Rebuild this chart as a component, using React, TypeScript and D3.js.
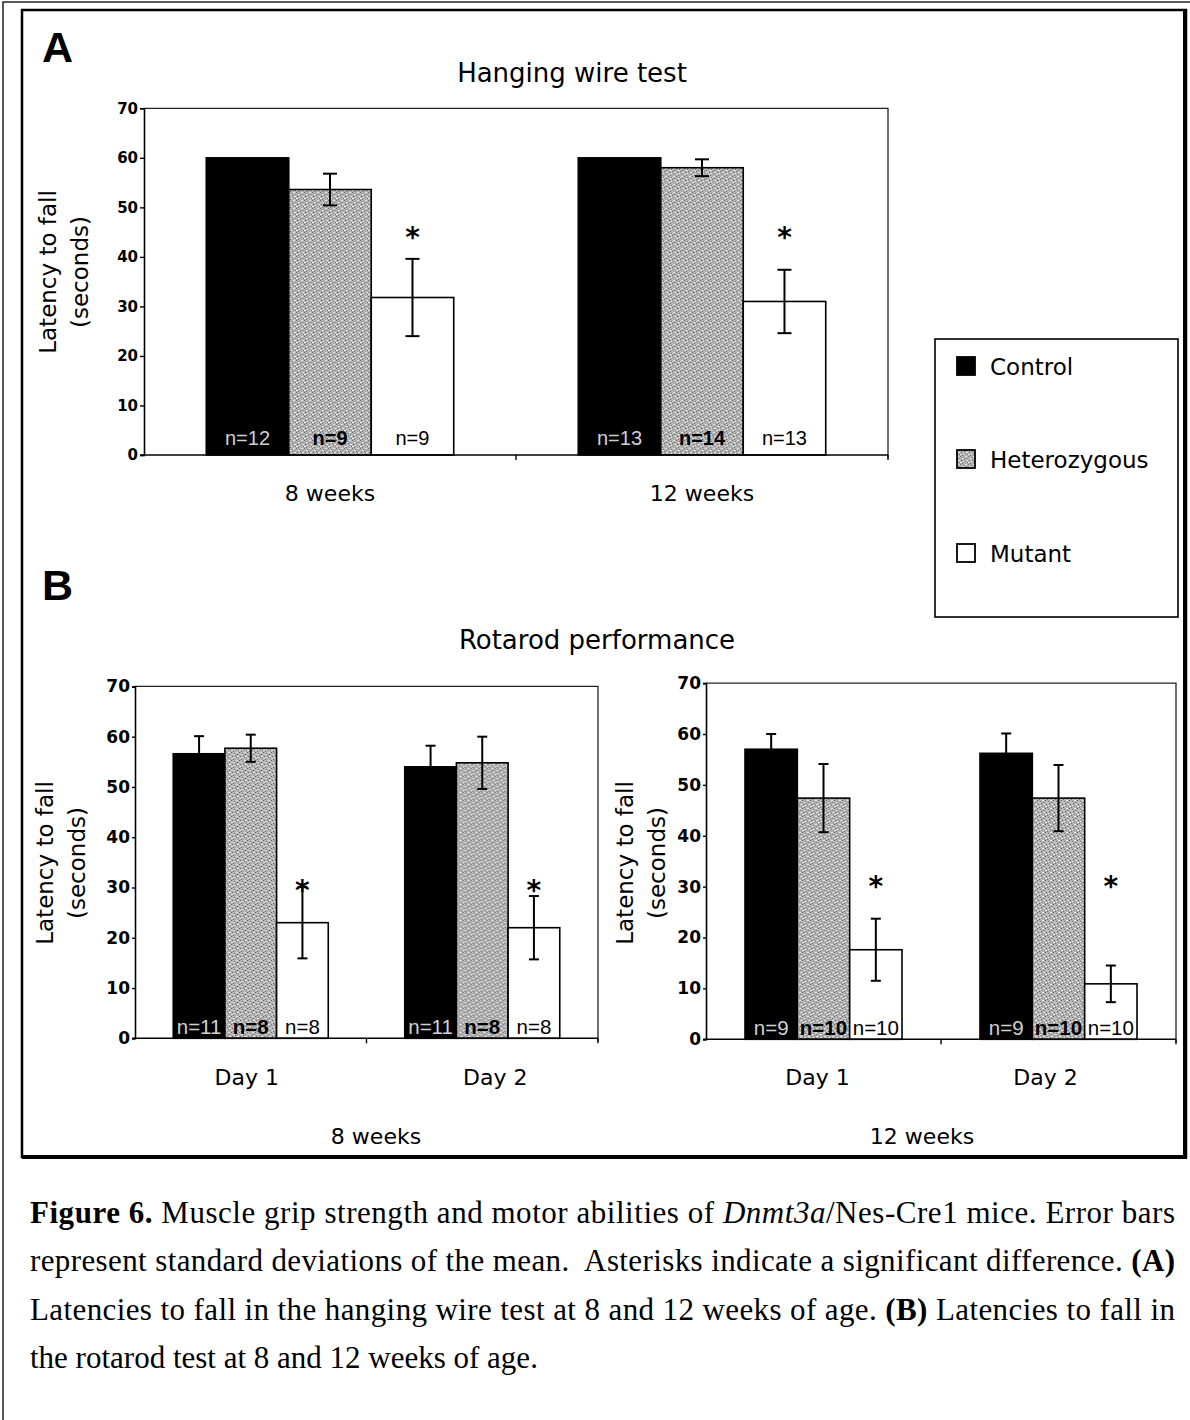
import React, { useRef, useEffect } from 'react';
import * as d3 from 'd3';

const genotypes = ['Control', 'Heterozygous', 'Mutant'];
const yTicks = [0, 10, 20, 30, 40, 50, 60, 70];

// (A) hanging wire test
const wireAges = ['8 weeks', '12 weeks'];
const wireControl = [60, 60];
const wireControlSd = [0, 0];
const wireHet = [53.6, 58.0];
const wireHetSd = [3.2, 1.7];
const wireMutant = [31.8, 31.0];
const wireMutantSd = [7.8, 6.4];
const wireControlN = [12, 13];
const wireHetN = [9, 14];
const wireMutantN = [9, 13];
const wireStars = [45.2, 45.2];

// (B) rotarod, 8 weeks
const rotaDays = ['Day 1', 'Day 2'];
const rota8Control = [56.6, 54.0];
const rota8ControlSd = [3.5, 4.2];
const rota8Het = [57.7, 54.8];
const rota8HetSd = [2.7, 5.2];
const rota8Mutant = [23.0, 22.0];
const rota8MutantSd = [7.1, 6.3];
const rota8ControlN = [11, 11];
const rota8HetN = [8, 8];
const rota8MutantN = [8, 8];
const rota8Stars = [30.6, 30.6];

// (B) rotarod, 12 weeks
const rota12Control = [57.0, 56.2];
const rota12ControlSd = [3.0, 3.9];
const rota12Het = [47.4, 47.4];
const rota12HetSd = [6.7, 6.5];
const rota12Mutant = [17.6, 10.9];
const rota12MutantSd = [6.1, 3.6];
const rota12ControlN = [9, 9];
const rota12HetN = [10, 10];
const rota12MutantN = [10, 10];
const rota12Stars = [31.3, 31.3];

const buildRows = (cats, means, sds, ns, stars) =>
  cats.map((cat, i) => ({
    cat,
    star: stars[i],
    values: genotypes.map((g, k) => ({ g, mean: means[k][i], sd: sds[k][i], n: ns[k][i] })),
  }));

const wireRows = buildRows(wireAges, [wireControl, wireHet, wireMutant],
  [wireControlSd, wireHetSd, wireMutantSd], [wireControlN, wireHetN, wireMutantN], wireStars);
const rota8Rows = buildRows(rotaDays, [rota8Control, rota8Het, rota8Mutant],
  [rota8ControlSd, rota8HetSd, rota8MutantSd], [rota8ControlN, rota8HetN, rota8MutantN], rota8Stars);
const rota12Rows = buildRows(rotaDays, [rota12Control, rota12Het, rota12Mutant],
  [rota12ControlSd, rota12HetSd, rota12MutantSd], [rota12ControlN, rota12HetN, rota12MutantN], rota12Stars);

const fills = { Control: '#000', Heterozygous: 'url(#hetFill)', Mutant: '#fff' };
const nStyle = {
  Control: { fill: '#d0d0d0', weight: 'normal' },
  Heterozygous: { fill: '#000', weight: 'bold' },
  Mutant: { fill: '#000', weight: 'normal' },
};

const SANS = 'DejaVu Sans, Verdana, sans-serif';
const ARIAL = 'Liberation Sans, Arial, sans-serif';
const SERIF = 'Liberation Serif, Times New Roman, serif';

const drawPanel = (root, rows, p) => {
  const x = d3.scaleBand().domain(rows.map(r => r.cat)).range([p.x0, p.x1]);
  const xi = d3.scaleBand().domain(genotypes).range([0, x.bandwidth()]).paddingOuter(p.pad);
  const y = d3.scaleLinear().domain([0, 70]).range([p.bottom, p.top]);
  const g = root.append('g');

  // frame (top + right)
  g.append('path')
    .attr('d', `M${p.x0},${p.top}H${p.x1}V${p.bottom + 3}`)
    .attr('fill', 'none').attr('stroke', '#222').attr('stroke-width', 1.3);

  rows.forEach(r => {
    const gg = g.append('g').attr('transform', `translate(${x(r.cat)},0)`);
    const cx = d => xi(d.g) + xi.bandwidth() / 2;

    gg.selectAll('rect.bar').data(r.values).join('rect')
      .attr('class', 'bar')
      .attr('x', d => xi(d.g))
      .attr('y', d => y(d.mean))
      .attr('width', xi.bandwidth())
      .attr('height', d => p.bottom - y(d.mean))
      .attr('fill', d => fills[d.g])
      .attr('stroke', '#000').attr('stroke-width', 1.6);

    // error bars
    const eb = r.values.filter(d => d.sd > 0);
    gg.selectAll('line.err').data(eb).join('line')
      .attr('class', 'err')
      .attr('x1', cx).attr('x2', cx)
      .attr('y1', d => y(d.mean + d.sd)).attr('y2', d => y(d.mean - d.sd))
      .attr('stroke', '#000').attr('stroke-width', 2);
    [1, -1].forEach(s => {
      gg.selectAll(`line.cap${s}`).data(eb).join('line')
        .attr('x1', d => cx(d) - p.cap).attr('x2', d => cx(d) + p.cap)
        .attr('y1', d => y(d.mean + s * d.sd)).attr('y2', d => y(d.mean + s * d.sd))
        .attr('stroke', '#000').attr('stroke-width', 2);
    });

    // n labels inside bars
    gg.selectAll('text.n').data(r.values).join('text')
      .attr('class', 'n')
      .attr('x', cx)
      .attr('y', p.bottom - p.nDy)
      .attr('text-anchor', 'middle')
      .attr('font-family', ARIAL)
      .attr('font-size', p.nFont)
      .attr('font-weight', d => nStyle[d.g].weight)
      .attr('fill', d => nStyle[d.g].fill)
      .text(d => `n=${d.n}`);

    // significance star over mutant bar
    const mut = r.values.find(d => d.g === 'Mutant');
    gg.append('text')
      .attr('x', cx(mut))
      .attr('y', y(r.star) + 16)
      .attr('text-anchor', 'middle')
      .attr('font-family', SANS)
      .attr('font-weight', 'bold')
      .attr('font-size', 28)
      .text('*');
  });

  // y axis
  g.append('g')
    .attr('transform', `translate(${p.x0},0)`)
    .call(d3.axisLeft(y).tickValues(yTicks).tickSize(p.tick).tickPadding(2))
    .call(s => s.select('.domain').attr('stroke-width', 1.6))
    .call(s => s.selectAll('.tick line').attr('stroke-width', 1.4))
    .call(s => s.selectAll('text')
      .attr('font-family', SANS).attr('font-weight', 'bold')
      .attr('font-size', p.tickFont).attr('fill', '#000'));

  // x axis: baseline + category ticks
  g.append('line')
    .attr('x1', p.x0 - p.tick).attr('x2', p.x1)
    .attr('y1', p.bottom).attr('y2', p.bottom)
    .attr('stroke', '#000').attr('stroke-width', 1.6);
  g.selectAll('line.xt').data(x.domain()).join('line')
    .attr('class', 'xt')
    .attr('x1', c => x(c) + x.bandwidth()).attr('x2', c => x(c) + x.bandwidth())
    .attr('y1', p.bottom).attr('y2', p.bottom + 5)
    .attr('stroke', '#000').attr('stroke-width', 1.4);
  g.selectAll('text.xl').data(x.domain()).join('text')
    .attr('class', 'xl')
    .attr('x', (c, i) => x(c) + x.bandwidth() / 2 + p.labelShift[i])
    .attr('y', p.bottom + p.labelDy)
    .attr('text-anchor', 'middle')
    .attr('font-family', SANS)
    .attr('font-size', 22)
    .text(c => c);

  // y title
  [['Latency to fall', p.yt1], ['(seconds)', p.yt2]].forEach(([t, tx]) => {
    g.append('text')
      .attr('transform', `translate(${tx},${p.ytc}) rotate(-90)`)
      .attr('text-anchor', 'middle')
      .attr('font-family', SANS)
      .attr('font-size', 23)
      .text(t);
  });
};

const wireLayout = {
  x0: 144, x1: 888, top: 108.3, bottom: 455, pad: 0.755, tick: 4, tickFont: 15,
  nFont: 20, nDy: 10, cap: 7, labelDy: 46, labelShift: [0, 0], yt1: 56, yt2: 88, ytc: 272,
};
const rota8Layout = {
  x0: 135, x1: 598, top: 686.4, bottom: 1038.3, pad: 0.74, tick: 3, tickFont: 17,
  nFont: 20.5, nDy: 4.5, cap: 5, labelDy: 47, labelShift: [-4, 13], yt1: 53, yt2: 85, ytc: 863,
};
const rota12Layout = {
  x0: 706, x1: 1176, top: 683.1, bottom: 1039.3, pad: 0.745, tick: 3, tickFont: 17,
  nFont: 20.5, nDy: 4.5, cap: 5, labelDy: 46, labelShift: [-6, -13], yt1: 633, yt2: 665, ytc: 863,
};

const legendBaselines = [375, 468, 562];

const App = () => {
  const gRef = useRef(null);

  useEffect(() => {
    const root = d3.select(gRef.current);
    root.selectAll('*').remove();

    drawPanel(root, wireRows, wireLayout);
    drawPanel(root, rota8Rows, rota8Layout);
    drawPanel(root, rota12Rows, rota12Layout);

    // legend
    const lg = root.append('g');
    lg.append('rect')
      .attr('x', 935).attr('y', 339).attr('width', 243).attr('height', 278)
      .attr('fill', '#fff').attr('stroke', '#000').attr('stroke-width', 1.6);
    genotypes.forEach((gname, i) => {
      const b = legendBaselines[i];
      lg.append('rect')
        .attr('x', 957).attr('y', b - 18).attr('width', 18).attr('height', 18)
        .attr('fill', fills[gname]).attr('stroke', '#000').attr('stroke-width', 1.8);
      lg.append('text')
        .attr('x', 990).attr('y', b)
        .attr('font-family', SANS).attr('font-size', 23)
        .text(gname);
    });
  }, []);

  return (
    <div style={{ position: 'absolute', left: 0, top: 0 }}>
      <svg width={1190} height={1420} style={{ display: 'block', background: '#fff' }}>
        <defs>
          <pattern id="hetFill" width="8" height="8" patternUnits="userSpaceOnUse">
            <rect width="8" height="8" fill="#b3b3b3" />
            <rect x="0" y="0" width="1" height="1" fill="#6a6a6a" />
            <rect x="3" y="1" width="1" height="1" fill="#6a6a6a" />
            <rect x="6" y="2" width="1" height="1" fill="#777" />
            <rect x="1" y="4" width="1" height="1" fill="#6a6a6a" />
            <rect x="5" y="5" width="1" height="1" fill="#777" />
            <rect x="2" y="7" width="1" height="1" fill="#6a6a6a" />
            <rect x="7" y="6" width="1" height="1" fill="#777" />
            <rect x="4" y="3" width="1" height="1" fill="#6a6a6a" />
            <rect x="2" y="2" width="2" height="1" fill="#e4e4e4" />
            <rect x="5" y="0" width="2" height="1" fill="#e4e4e4" />
            <rect x="0" y="6" width="2" height="1" fill="#e4e4e4" />
            <rect x="6" y="4" width="2" height="1" fill="#e4e4e4" />
            <rect x="3" y="5" width="1" height="1" fill="#e4e4e4" />
          </pattern>
        </defs>

        {/* page + figure borders */}
        <path d="M3,1420V2H1190" fill="none" stroke="#222" strokeWidth={1.5} />
        <rect x={22} y={10} width={1164} height={1147} fill="none" stroke="#000" strokeWidth={2.5} />
        <line x1={1185} y1={10} x2={1185} y2={1158} stroke="#000" strokeWidth={4} />
        <line x1={22} y1={1157} x2={1187} y2={1157} stroke="#000" strokeWidth={4} />

        {/* panel letters + titles */}
        <text x={42} y={62} fontFamily={ARIAL} fontWeight="900" fontSize={43}>A</text>
        <text x={42} y={600} fontFamily={ARIAL} fontWeight="900" fontSize={43}>B</text>
        <text x={572} y={82} textAnchor="middle" fontFamily={SANS} fontSize={26}>Hanging wire test</text>
        <text x={597} y={649} textAnchor="middle" fontFamily={SANS} fontSize={26}>Rotarod performance</text>
        <text x={376} y={1144} textAnchor="middle" fontFamily={SANS} fontSize={22}>8 weeks</text>
        <text x={922} y={1144} textAnchor="middle" fontFamily={SANS} fontSize={22}>12 weeks</text>

        <g ref={gRef} />

        {/* caption */}
        <g fontFamily={SERIF} fontSize={31} fill="#000">
          <text x={30} y={1223} textLength={1145} lengthAdjust="spacing" xmlSpace="preserve">
            <tspan fontWeight="bold">Figure 6.</tspan>
            <tspan> Muscle grip strength and motor abilities of </tspan>
            <tspan fontStyle="italic">Dnmt3a</tspan>
            <tspan>/Nes-Cre1 mice. Error bars</tspan>
          </text>
          <text x={30} y={1271} textLength={1145} lengthAdjust="spacing" xmlSpace="preserve">
            <tspan>represent standard deviations of the mean.  Asterisks indicate a significant difference. </tspan>
            <tspan fontWeight="bold">(A)</tspan>
          </text>
          <text x={30} y={1320} textLength={1145} lengthAdjust="spacing" xmlSpace="preserve">
            <tspan>Latencies to fall in the hanging wire test at 8 and 12 weeks of age. </tspan>
            <tspan fontWeight="bold">(B)</tspan>
            <tspan> Latencies to fall in</tspan>
          </text>
          <text x={30} y={1368}>the rotarod test at 8 and 12 weeks of age.</text>
        </g>
      </svg>
    </div>
  );
};

export default App;
